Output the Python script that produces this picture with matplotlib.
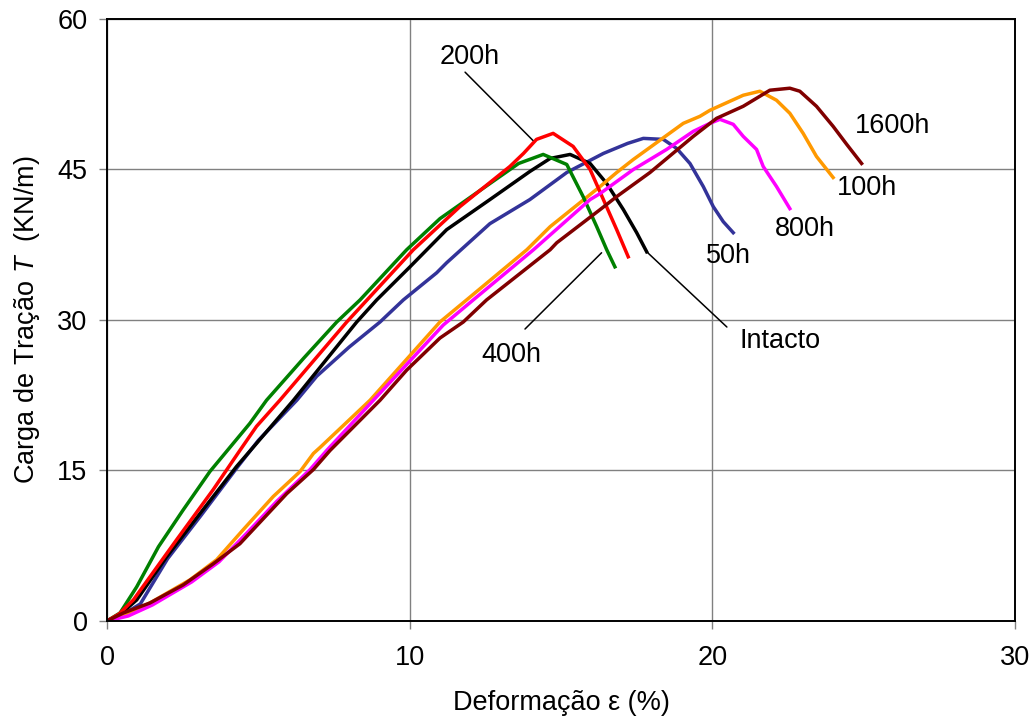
import matplotlib
matplotlib.use("Agg")
import matplotlib.pyplot as plt

plt.rcParams['font.family'] = ['Liberation Sans', 'DejaVu Sans']
plt.rcParams['mathtext.fontset'] = 'custom'
plt.rcParams['mathtext.rm'] = 'Liberation Sans'
plt.rcParams['mathtext.it'] = 'Liberation Sans:italic'

# strain (%) and tensile load (kN/m) for each exposure time
intacto_x = [0, 0.45, 0.98, 1.97, 3.07, 4.28, 4.94, 6.16, 8.25, 8.91, 10.01, 11.22, 12.65, 13.97,
             14.64, 15.30, 15.96, 16.51, 17.06, 17.50, 17.83]
intacto_y = [0, 0.7, 2.1, 6.4, 10.7, 15.4, 17.7, 22.0, 29.8, 32.0, 35.3, 39.0, 42.0, 44.8,
             46.1, 46.5, 45.6, 43.6, 41.0, 38.7, 36.8]

h50_x = [0, 0.5, 1.1, 2.0, 3.1, 4.3, 5.0, 6.27, 6.93, 8.0, 9.02, 9.79, 10.89, 11.22, 12.65, 13.97,
         15.19, 16.40, 17.2, 17.72, 18.38, 18.82, 19.26, 19.70, 20.03, 20.36, 20.69]
h50_y = [0, 0.6, 1.7, 6.2, 10.5, 15.3, 18.0, 22.0, 24.4, 27.3, 29.8, 32.0, 34.7, 35.7, 39.6, 42.0,
         44.7, 46.6, 47.6, 48.1, 48.0, 47.1, 45.6, 43.3, 41.3, 39.8, 38.7]

h100_x = [0, 0.7, 1.42, 2.74, 3.62, 4.50, 5.49, 6.38, 6.82, 7.04, 8.69, 11.0, 11.88, 13.87, 14.64,
          16.29, 16.84, 17.39, 19.04, 19.59, 19.92, 21.02, 21.57, 22.12, 22.56, 23.0, 23.44, 23.99]
h100_y = [0, 0.7, 1.8, 4.1, 6.1, 9.1, 12.4, 14.9, 16.7, 17.3, 22.0, 29.8, 32.0, 37.0, 39.3,
          43.3, 44.7, 46.0, 49.6, 50.3, 50.9, 52.4, 52.8, 51.9, 50.6, 48.6, 46.3, 44.2]

h200_x = [0, 0.4, 0.87, 2.30, 3.51, 4.39, 4.94, 5.71, 7.92, 10.12, 11.66, 13.31, 13.76, 14.19,
          14.74, 15.40, 15.96, 16.40, 16.84, 17.22]
h200_y = [0, 0.7, 2.1, 8.1, 13.1, 17.0, 19.4, 22.0, 29.8, 37.0, 41.3, 45.3, 46.6, 48.0,
          48.6, 47.3, 45.0, 42.0, 39.0, 36.3]

h400_x = [0, 0.43, 0.98, 1.70, 2.5, 3.40, 4.72, 5.27, 6.5, 7.59, 8.36, 9.9, 11.0, 12.65, 13.6,
          14.41, 15.19, 15.73, 16.18, 16.51, 16.78]
h400_y = [0, 0.8, 3.4, 7.4, 11.0, 14.9, 19.7, 22.0, 26.2, 29.8, 32.0, 37.0, 40.1, 43.6, 45.6,
          46.5, 45.5, 42.3, 39.3, 37.0, 35.3]

h800_x = [0, 0.7, 1.5, 2.8, 3.7, 4.6, 5.6, 6.71, 7.26, 8.80, 11.11, 12.10, 14.09, 15.96, 16.29,
          17.39, 18.49, 19.37, 19.92, 20.25, 20.69, 21.02, 21.46, 21.68, 22.12, 22.56]
h800_y = [0, 0.5, 1.6, 3.9, 5.9, 8.7, 11.9, 15.1, 17.0, 22.0, 29.5, 32.0, 37.0, 42.0, 42.6,
          45.0, 47.0, 48.8, 49.6, 50.0, 49.5, 48.3, 47.0, 45.3, 43.3, 41.1]

h1600_x = [0, 0.54, 1.42, 2.52, 3.51, 4.39, 5.94, 6.82, 7.37, 9.02, 9.90, 11.0, 11.77, 12.54, 14.64,
           14.86, 16.29, 16.84, 17.94, 19.37, 20.14, 21.02, 21.90, 22.56, 22.89, 23.44, 23.99, 24.44, 24.93]
h1600_y = [0, 0.8, 1.8, 3.6, 5.7, 7.7, 12.7, 15.1, 17.0, 22.0, 25.0, 28.2, 29.8, 32.0, 37.0,
           37.7, 41.0, 42.3, 44.7, 48.3, 50.1, 51.3, 52.9, 53.1, 52.8, 51.3, 49.3, 47.5, 45.6]

xticks = [0, 10, 20, 30]
yticks = [0, 15, 30, 45, 60]

fig = plt.figure(figsize=(10.33, 7.19), dpi=100)
ax = fig.add_axes([0.1036, 0.1363, 0.879, 0.8373])

lw = 2.5
ax.plot(h50_x, h50_y, color='#333399', lw=lw)
ax.plot(intacto_x, intacto_y, color='black', lw=lw)
ax.plot(h100_x, h100_y, color='#FF9900', lw=lw)
ax.plot(h400_x, h400_y, color='#008000', lw=lw)
ax.plot(h200_x, h200_y, color='#FF0000', lw=lw)
ax.plot(h800_x, h800_y, color='#FF00FF', lw=lw)
ax.plot(h1600_x, h1600_y, color='#800000', lw=lw)

ax.set_xlim(0, 30)
ax.set_ylim(0, 60)
ax.set_xticks(xticks)
ax.set_yticks(yticks)
ax.grid(True, color='#808080', lw=1)
ax.set_axisbelow(True)
for s in ax.spines.values():
    s.set_color('black')
    s.set_linewidth(1.4)
fs = 19.5
ax.tick_params(axis='both', direction='out', length=6, width=1, color='#808080',
               labelsize=fs)
ax.tick_params(axis='x', pad=11)
ax.tick_params(axis='y', pad=8)

ax.set_xlabel('Deformação ε (%)', fontsize=fs, labelpad=14)
ax.set_ylabel('Carga de Tração $T$  (KN/m)', fontsize=fs, labelpad=11)

# curve labels
line = dict(arrowstyle='-', color='black', lw=1.1, shrinkA=0, shrinkB=0)
ax.text(11.99, 56.2, '200h', fontsize=fs, ha='center', va='center')
ax.annotate('', xy=(14.07, 47.9), xytext=(11.83, 54.7), arrowprops=line)
ax.text(13.35, 26.5, '400h', fontsize=fs, ha='center', va='center')
ax.annotate('', xy=(16.34, 36.7), xytext=(13.81, 29.1), arrowprops=line)
ax.text(22.23, 27.9, 'Intacto', fontsize=fs, ha='center', va='center')
ax.annotate('', xy=(17.83, 36.8), xytext=(20.48, 29.3), arrowprops=line)
ax.text(20.52, 36.4, '50h', fontsize=fs, ha='center', va='center')
ax.text(23.06, 39.1, '800h', fontsize=fs, ha='center', va='center')
ax.text(25.11, 43.2, '100h', fontsize=fs, ha='center', va='center')
ax.text(25.97, 49.3, '1600h', fontsize=fs, ha='center', va='center')

fig.savefig('out.png', dpi=100)
